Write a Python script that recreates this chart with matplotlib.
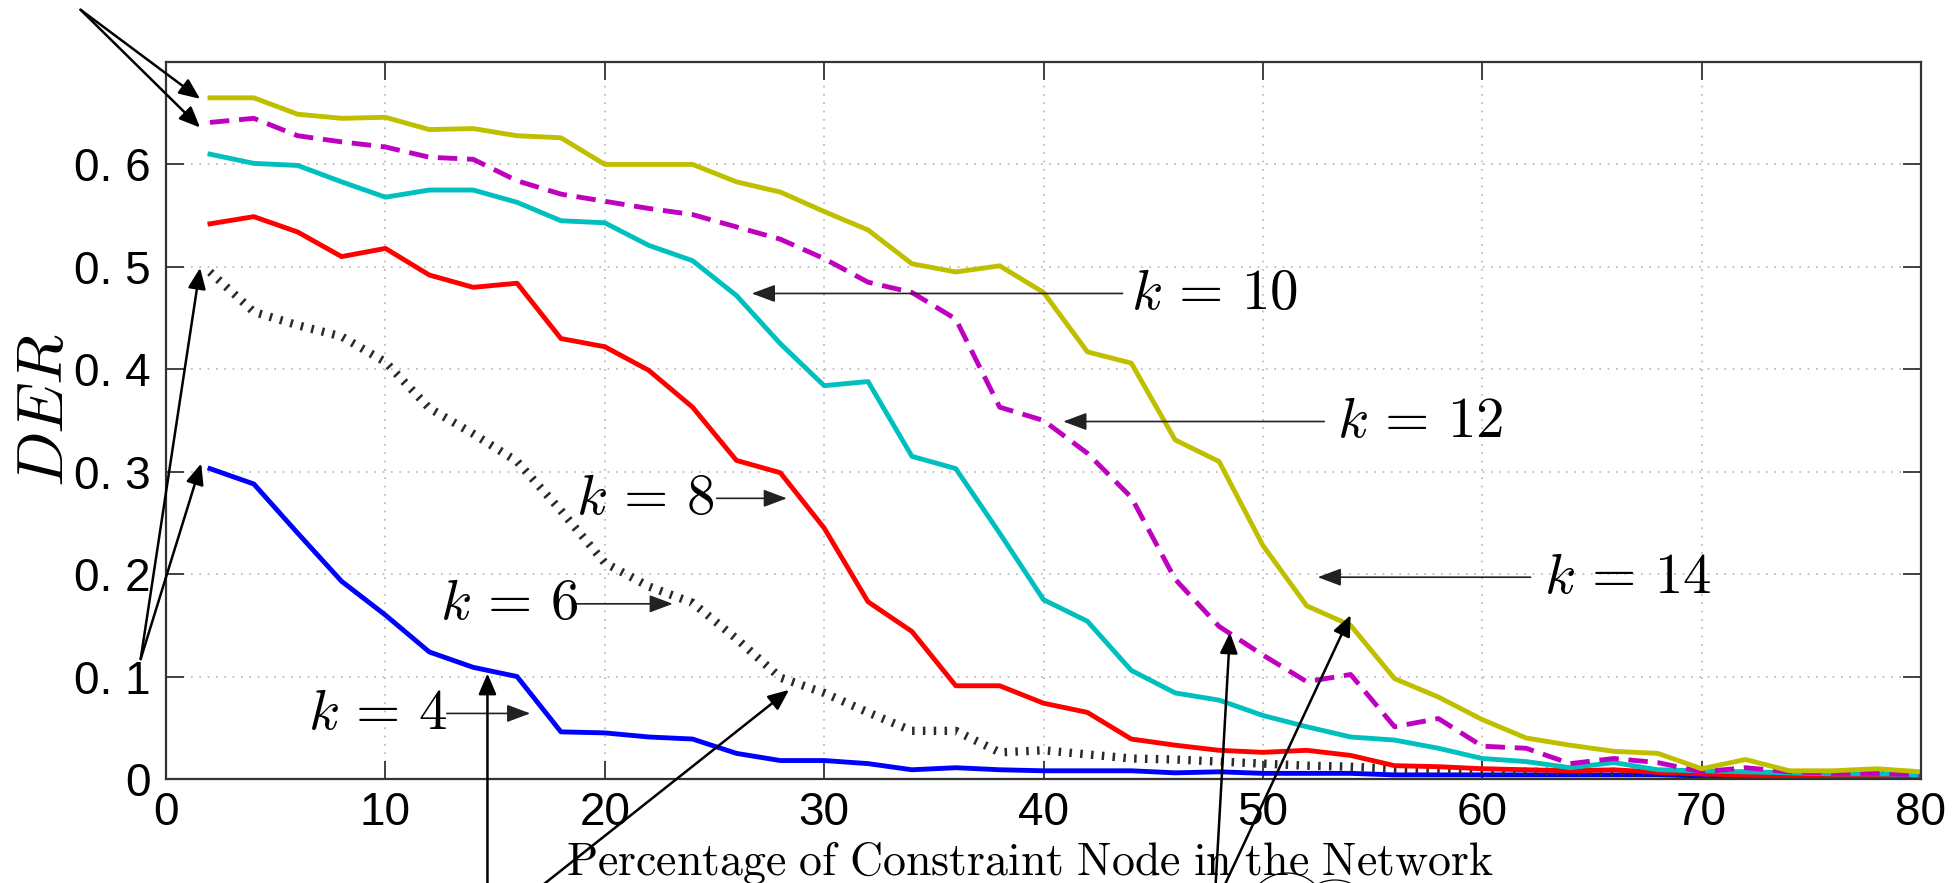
import numpy as np
import matplotlib
matplotlib.use("Agg")
import matplotlib.pyplot as plt
from matplotlib.patches import Ellipse

plt.rcParams['mathtext.fontset'] = 'cm'

# percentage of constraint nodes (x axis)
pct = np.arange(2, 82, 2)

# DER for each k
der_k4 = [0.303, 0.288, 0.240, 0.193, 0.160, 0.124, 0.109, 0.100, 0.046, 0.045,
          0.041, 0.039, 0.025, 0.018, 0.018, 0.015, 0.009, 0.011, 0.009, 0.008,
          0.008, 0.008, 0.006, 0.007, 0.0055, 0.0055, 0.0055, 0.004, 0.004, 0.004,
          0.004, 0.004, 0.004, 0.004, 0.003, 0.003, 0.003, 0.003, 0.003, 0.003]
der_k6 = [0.495, 0.456, 0.443, 0.432, 0.407, 0.362, 0.337, 0.310, 0.262, 0.211,
          0.188, 0.172, 0.137, 0.099, 0.084, 0.065, 0.047, 0.047, 0.026, 0.028,
          0.024, 0.020, 0.019, 0.017, 0.015, 0.013, 0.012, 0.010, 0.009, 0.008,
          0.007, 0.007, 0.006, 0.006, 0.005, 0.005, 0.004, 0.004, 0.004, 0.003]
der_k8 = [0.542, 0.549, 0.534, 0.510, 0.518, 0.492, 0.480, 0.484, 0.430, 0.422,
          0.399, 0.363, 0.311, 0.299, 0.245, 0.173, 0.144, 0.091, 0.091, 0.074,
          0.065, 0.039, 0.033, 0.028, 0.026, 0.028, 0.023, 0.013, 0.012, 0.010,
          0.009, 0.008, 0.009, 0.0065, 0.005, 0.0036, 0.003, 0.003, 0.003, 0.003]
der_k10 = [0.610, 0.601, 0.599, 0.583, 0.568, 0.575, 0.575, 0.563, 0.545, 0.543,
           0.521, 0.506, 0.472, 0.425, 0.384, 0.388, 0.315, 0.303, 0.240, 0.175,
           0.154, 0.106, 0.084, 0.077, 0.062, 0.051, 0.041, 0.038, 0.030, 0.020,
           0.017, 0.011, 0.016, 0.009, 0.008, 0.007, 0.006, 0.005, 0.005, 0.004]
der_k12 = [0.641, 0.645, 0.628, 0.622, 0.617, 0.607, 0.605, 0.584, 0.571, 0.564,
           0.557, 0.551, 0.539, 0.527, 0.508, 0.485, 0.475, 0.449, 0.363, 0.350,
           0.318, 0.275, 0.195, 0.149, 0.121, 0.095, 0.102, 0.051, 0.059, 0.032,
           0.030, 0.015, 0.020, 0.016, 0.007, 0.011, 0.007, 0.0055, 0.0055, 0.004]
der_k14 = [0.665, 0.665, 0.649, 0.645, 0.646, 0.634, 0.635, 0.628, 0.626, 0.600,
           0.600, 0.600, 0.583, 0.573, 0.554, 0.536, 0.503, 0.495, 0.501, 0.475,
           0.417, 0.406, 0.331, 0.310, 0.228, 0.169, 0.150, 0.098, 0.080, 0.058,
           0.040, 0.033, 0.027, 0.025, 0.010, 0.019, 0.008, 0.008, 0.010, 0.007]

xticks = [0, 10, 20, 30, 40, 50, 60, 70, 80]
yticks = [0, 0.1, 0.2, 0.3, 0.4, 0.5, 0.6]
ytick_labels = ['0', '0. 1', '0. 2', '0. 3', '0. 4', '0. 5', '0. 6']

# k labels: text, text x, arrow tail x, arrow head x, arrow y
k_labels = [
    (r'$k\,=\,10$', 44.0, 43.6, 26.7, 0.474, 'left'),
    (r'$k\,=\,12$', 53.4, 52.8, 40.9, 0.349, 'left'),
    (r'$k\,=\,14$', 62.8, 62.2, 52.5, 0.197, 'left'),
    (r'$k\,=\,8$', 25.0, 25.1, 28.3, 0.274, 'right'),
    (r'$k\,=\,6$', 12.5, 18.6, 23.1, 0.171, 'left'),
    (r'$k\,=\,4$', 6.45, 12.8, 16.6, 0.064, 'left'),
]

# plain pointer arrows: (tail x, tail y, head x, head y)
pointers = [
    (-3.9, 0.751, 1.55, 0.664),
    (-3.9, 0.751, 1.55, 0.636),
    (-1.16, 0.117, 1.55, 0.499),
    (-1.16, 0.117, 1.6, 0.308),
    (14.65, -0.12, 14.65, 0.103),
    (16.2, -0.12, 28.4, 0.087),
    (47.8, -0.12, 48.5, 0.143),
    (47.9, -0.12, 54.0, 0.160),
]

fig = plt.figure(figsize=(19.54, 8.83), dpi=100)
ax = fig.add_axes([0.0850, 0.1178, 0.8981, 0.8120])

ax.plot(pct, der_k4, color='#0000ff', lw=3.5)
ax.plot(pct, der_k6, color='#2a2a2a', lw=6, linestyle=(0, (0.3, 1.0)),
        dash_capstyle='butt')
ax.plot(pct, der_k8, color='#ff0000', lw=3.5)
ax.plot(pct, der_k10, color='#00bfbf', lw=3.5)
ax.plot(pct, der_k12, color='#bf00bf', lw=3.5, linestyle=(0, (4.0, 2.0)))
ax.plot(pct, der_k14, color='#bfbf00', lw=3.5)

ax.set_xlim(0, 80)
ax.set_ylim(0, 0.7)
ax.set_xticks(xticks)
ax.set_yticks(yticks)
ax.set_yticklabels(ytick_labels)
ax.grid(True, color='#b4b4b4', lw=1.2, linestyle=(0, (1, 4)))
ax.tick_params(direction='in', top=True, right=True, length=13, width=1.3,
               color='#333333', labelsize=33)
ax.tick_params(axis='x', pad=9)
ax.tick_params(axis='y', pad=11)
for lab in ax.get_xticklabels() + ax.get_yticklabels():
    lab.set_family(['Liberation Sans Narrow', 'Liberation Sans', 'DejaVu Sans'])
for sp in ax.spines.values():
    sp.set_color('#333333')
    sp.set_linewidth(1.6)

for txt, tx, x0, x1, y, ha in k_labels:
    ax.annotate('', xy=(x1, y), xytext=(x0, y),
                arrowprops=dict(arrowstyle='-|>,head_length=0.8,head_width=0.3',
                                mutation_scale=18, color='#222222', lw=1.2,
                                shrinkA=0, shrinkB=0))
    ax.text(tx, y - 0.015, txt, fontsize=41, ha=ha, va='baseline')

for x0, y0, x1, y1 in pointers:
    ax.annotate('', xy=(x1, y1), xytext=(x0, y0), annotation_clip=False,
                arrowprops=dict(arrowstyle='-|>,head_length=0.7,head_width=0.3',
                                mutation_scale=18, color='black', lw=1.8,
                                shrinkA=0, shrinkB=0))

fig.text(0.023, 1 - 410 / 883, r'$DER$', fontsize=47, rotation=90,
         ha='center', va='center')
fig.text(1030 / 1954, 1 - 874 / 883,
         r'$\mathrm{Percentage\ of\ Constraint\ Node\ in\ the\ Network}$',
         fontsize=33, ha='center', va='baseline')

# partly visible circles along the bottom edge
fig.add_artist(Ellipse((1287 / 1954, 1 - 913 / 883), 80 / 1954, 80 / 883,
                       fill=False, lw=0.9, color='black'))
fig.add_artist(Ellipse((1335 / 1954, 1 - 919 / 883), 78 / 1954, 78 / 883,
                       fill=False, lw=0.9, color='black'))

fig.savefig('out.png', dpi=100)
